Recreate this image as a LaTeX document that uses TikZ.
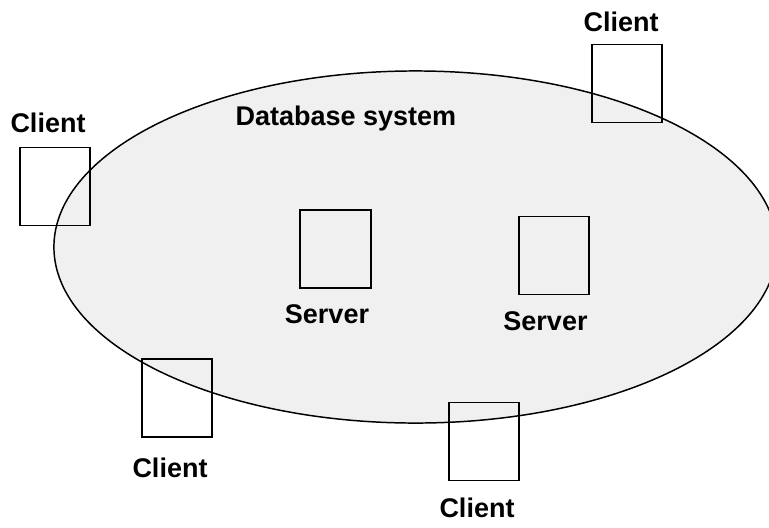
\documentclass[tikz,border=0pt]{standalone}
\usepackage{fontspec}
\setmainfont{Liberation Sans}
\usepackage{tikz}
\usetikzlibrary{shapes.geometric, positioning}
\definecolor{systemcolor}{RGB}{240, 240, 240}

\begin{document}
\begin{tikzpicture}[x=0.025cm, y=-0.025cm,
    unit/.style={draw, line width=1.35pt, minimum width=1.76cm, minimum height=1.95cm, inner sep=0pt},
    lbl/.style={font=\fontsize{19.2}{23}\selectfont\bfseries, anchor=base, inner sep=0pt}]
    \useasboundingbox (0, 0) rectangle (769, 527);

    % Database system
    \node[draw, fill=systemcolor, ellipse, line width=1.05pt, minimum width=18.075cm, minimum height=8.8cm, inner sep=0pt] (dbsys) at (415.5, 247) {};
    \node[lbl] (dblabel) at (346, 125) {Database system};

    % Servers
    \node[unit] (serverA) at (335.5, 249) {};
    \node[lbl] (serverAlabel) at (327, 323) {Server};
    \node[unit] (serverB) at (554, 255.5) {};
    \node[lbl] (serverBlabel) at (545.5, 330) {Server};

    % Clients
    \node[unit] (clientNE) at (627, 83.5) {};
    \node[lbl] (clientNElabel) at (621, 31) {Client};
    \node[unit] (clientW) at (55, 186.5) {};
    \node[lbl] (clientWlabel) at (48, 132) {Client};
    \node[unit] (clientSW) at (177, 398) {};
    \node[lbl] (clientSWlabel) at (170, 477) {Client};
    \node[unit] (clientS) at (484, 441.5) {};
    \node[lbl] (clientSlabel) at (477, 517) {Client};

\end{tikzpicture}
\end{document}
